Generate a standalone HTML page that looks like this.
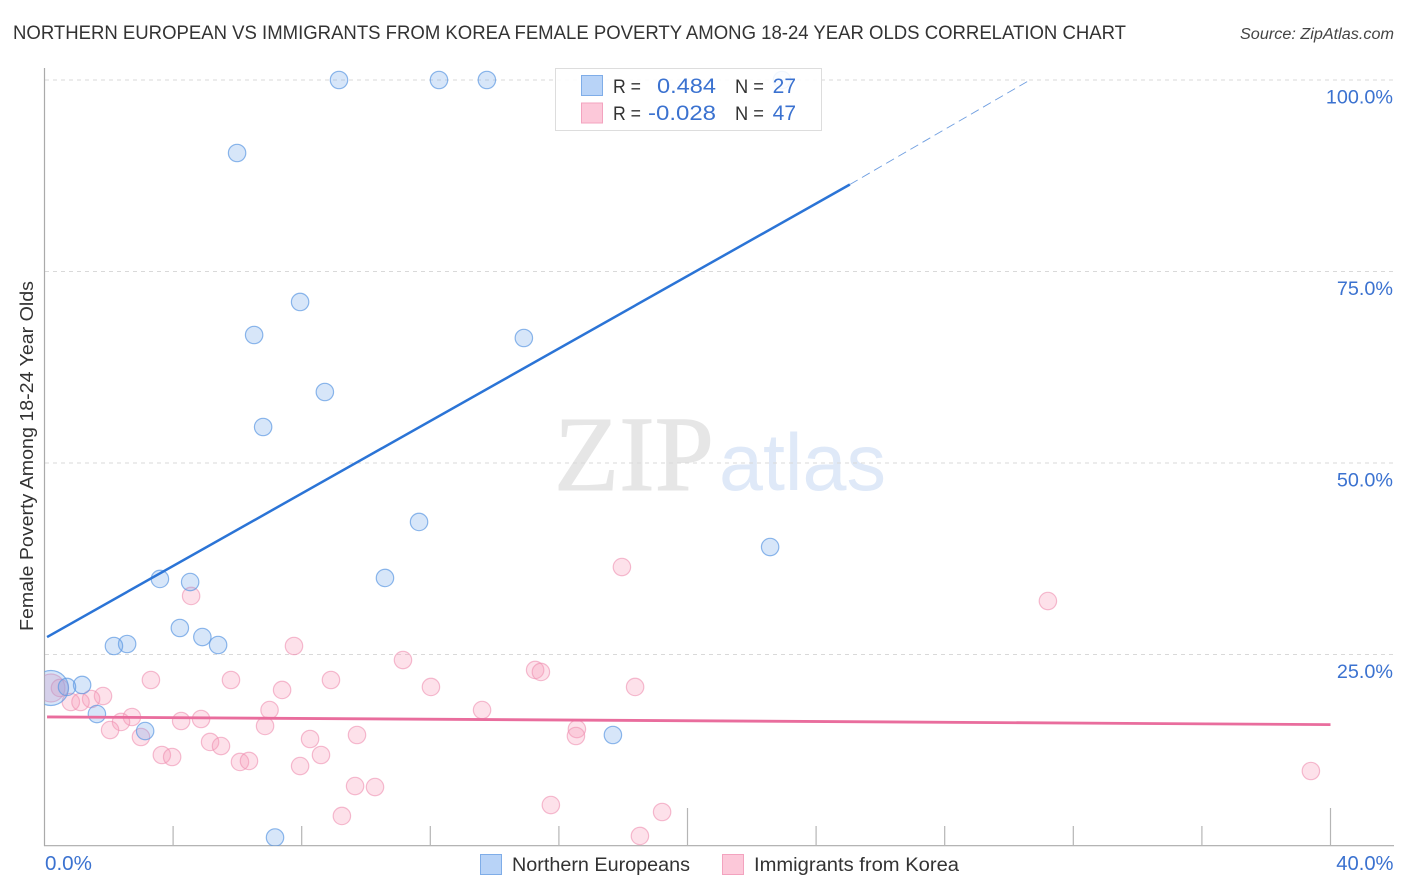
<!DOCTYPE html>
<html lang="en">
<head>
<meta charset="utf-8">
<title>Northern European vs Immigrants from Korea Female Poverty Correlation Chart</title>
<style>
html,body{margin:0;padding:0;background:#fff;width:1406px;height:892px;overflow:hidden}
svg{display:block;font-family:"Liberation Sans",sans-serif}
</style>
</head>
<body>
<svg id="chart" width="1406" height="892" viewBox="0 0 1406 892" xmlns="http://www.w3.org/2000/svg">
  <defs>
    <clipPath id="plot-clip"><rect x="44.5" y="60" width="1350" height="786"/></clipPath>
  </defs>
  <rect width="1406" height="892" fill="#ffffff"/>
  <text x="13" y="39" font-size="19.5" fill="#333333" textLength="1113" lengthAdjust="spacingAndGlyphs">NORTHERN EUROPEAN VS IMMIGRANTS FROM KOREA FEMALE POVERTY AMONG 18-24 YEAR OLDS CORRELATION CHART</text>
  <text x="1394" y="39" font-size="15.5" font-style="italic" fill="#444444" text-anchor="end" textLength="154" lengthAdjust="spacingAndGlyphs">Source: ZipAtlas.com</text>
  <text x="554" y="490" font-family="'Liberation Serif',serif" font-size="107" fill="#e6e6e6" stroke="#e6e6e6" stroke-width="1" textLength="160" lengthAdjust="spacingAndGlyphs">ZIP</text>
  <text x="719" y="490" font-size="81" fill="#dfe9f8" textLength="167" lengthAdjust="spacingAndGlyphs">atlas</text>
  <g id="grid"></g>
  <g id="axes"></g>
  <g id="pink-points" clip-path="url(#plot-clip)"></g>
  <g id="blue-points" clip-path="url(#plot-clip)"></g>
  <g id="trends"></g>
  <g id="labels"></g>
  <text transform="translate(33,456) rotate(-90)" font-size="18" fill="#333333" text-anchor="middle" textLength="350" lengthAdjust="spacingAndGlyphs">Female Poverty Among 18-24 Year Olds</text>

  <g>
    <rect x="555.5" y="68.5" width="266" height="62" fill="#ffffff" fill-opacity="0.88" stroke="#dddddd" stroke-width="1"/>
    <rect x="581.5" y="75.5" width="21" height="20" fill="#b8d3f7" stroke="#7fade8" stroke-width="1"/>
    <rect x="581.5" y="103" width="21" height="20" fill="#fcc8d9" stroke="#f3a3bf" stroke-width="1"/>
    <text x="613" y="93" font-size="19" fill="#333333" textLength="28" lengthAdjust="spacingAndGlyphs">R =</text>
    <text x="657" y="93" font-size="21" fill="#3b72d0" textLength="59" lengthAdjust="spacingAndGlyphs">0.484</text>
    <text x="735" y="93" font-size="19" fill="#333333" textLength="29" lengthAdjust="spacingAndGlyphs">N =</text>
    <text x="796" y="93" font-size="21" fill="#3b72d0" text-anchor="end">27</text>
    <text x="613" y="120" font-size="19" fill="#333333" textLength="28" lengthAdjust="spacingAndGlyphs">R =</text>
    <text x="648" y="120" font-size="21" fill="#3b72d0" textLength="68" lengthAdjust="spacingAndGlyphs">-0.028</text>
    <text x="735" y="120" font-size="19" fill="#333333" textLength="29" lengthAdjust="spacingAndGlyphs">N =</text>
    <text x="796" y="120" font-size="21" fill="#3b72d0" text-anchor="end">47</text>
  </g>

  <g>
    <rect x="480.5" y="854.5" width="21" height="20" fill="#b8d3f7" stroke="#7fade8" stroke-width="1"/>
    <text x="512" y="871" font-size="19" fill="#333333" textLength="178" lengthAdjust="spacingAndGlyphs">Northern Europeans</text>
    <rect x="722.5" y="854.5" width="21" height="20" fill="#fcc8d9" stroke="#f3a3bf" stroke-width="1"/>
    <text x="754" y="871" font-size="19" fill="#333333" textLength="205" lengthAdjust="spacingAndGlyphs">Immigrants from Korea</text>
  </g>
</svg>
<script>
// Northern Europeans
const blueX = [0.20, 9.16, 12.27, 13.76, 22.94, 5.99, 7.95, 6.52, 14.91, 8.72, 6.80, 11.65, 22.57, 10.59, 3.59, 4.53, 4.21, 4.91, 5.40, 2.57, 2.16, 1.17, 0.70, 1.63, 3.13, 17.68, 7.17];
const blueY = [20.63, 100, 100, 100, 100, 90.47, 71.02, 66.71, 66.32, 59.27, 54.70, 42.30, 39.03, 34.99, 34.86, 34.46, 28.46, 27.28, 26.24, 26.37, 26.11, 21.02, 20.76, 17.23, 15.01, 14.49, 1.11];
// Immigrants from Korea
const pinkX = [0.20, 17.96, 31.21, 4.56, 7.76, 11.15, 15.26, 15.44, 3.31, 5.80, 8.91, 12.02, 18.37, 7.39, 1.82, 1.45, 0.48, 0.82, 1.12, 2.72, 2.38, 2.04, 4.25, 4.87, 7.00, 6.86, 13.61, 16.56, 16.53, 3.00, 3.65, 3.97, 5.15, 5.49, 6.08, 6.36, 8.26, 8.60, 9.72, 7.95, 9.66, 10.28, 9.25, 15.75, 19.21, 18.52, 39.39];
const pinkY = [20.63, 36.42, 31.98, 32.64, 26.11, 24.28, 22.98, 22.72, 21.67, 21.67, 21.67, 20.76, 20.76, 20.37, 19.58, 19.19, 20.63, 18.80, 18.80, 16.84, 16.19, 15.14, 16.32, 16.58, 17.75, 15.67, 17.75, 15.27, 14.36, 14.23, 11.88, 11.62, 13.58, 13.05, 10.97, 11.10, 13.97, 11.88, 14.49, 10.44, 7.83, 7.70, 3.92, 5.35, 4.44, 1.31, 9.79];
// Trend lines: start, end of solid part, end of dashed extension
const blueTrendX = [0.08, 25.05, 30.65];
const blueTrendY = [27.28, 86.36, 100];
const pinkTrendX = [0.08, 40];
const pinkTrendY = [16.85, 15.85];
// Ticks
const xTickValues = [4, 8, 12, 16, 20, 24, 28, 32, 36, 40];
const xMajorTicks = [20, 40];
const yTickValues = [25, 50, 75, 100];
const yTickLabels = ['25.0%', '50.0%', '75.0%', '100.0%'];
const xEndValues = [0, 40];
const xEndLabels = ['0.0%', '40.0%'];

const NS = 'http://www.w3.org/2000/svg';
function xScale(v) { return 44.5 + v * (1330.5 - 44.5) / 40; }
function yScale(v) { return 846 - v * (846 - 80) / 100; }
function make(tag, attrs, parent) {
  const el = document.createElementNS(NS, tag);
  for (const k in attrs) el.setAttribute(k, attrs[k]);
  document.getElementById(parent).appendChild(el);
  return el;
}

yTickValues.forEach(function (v) {
  const el = make('line', { x1: 45, x2: 1393, y1: yScale(v), y2: yScale(v), stroke: '#d9d9d9', 'stroke-width': 1, 'stroke-dasharray': '4 4' }, 'grid');
  
  
});

const yAxis = make('line', { x1: 44.5, x2: 44.5, y1: 68, y2: 846, stroke: '#aaaaaa', 'stroke-width': 1.2 }, 'axes');


const xAxis = make('line', { x1: 44, x2: 1394, y1: 845.7, y2: 845.7, stroke: '#aaaaaa', 'stroke-width': 1.2 }, 'axes');



xTickValues.forEach(function (v) {
  const top = xMajorTicks.indexOf(v) >= 0 ? 808 : 826;
  const el = make('line', { x1: xScale(v), x2: xScale(v), y1: top, y2: 846, stroke: '#b5b5b5', 'stroke-width': 1.2 }, 'axes');
  
  
});

pinkX.forEach(function (v, i) {
  const el = make('circle', { cx: xScale(v), cy: yScale(pinkY[i]), r: i === 0 ? 14 : 8.7, fill: '#f79dbb', 'fill-opacity': 0.3, stroke: '#ee8fb0', 'stroke-opacity': 0.6, 'stroke-width': 1.2 }, 'pink-points');
  
  
});

blueX.forEach(function (v, i) {
  const el = make('circle', { cx: xScale(v), cy: yScale(blueY[i]), r: i === 0 ? 17.5 : 8.7, fill: '#6ea6ea', 'fill-opacity': 0.28, stroke: '#5c98e2', 'stroke-opacity': 0.7, 'stroke-width': 1.2 }, 'blue-points');
  
  
});

const blueSolid = make('line', { x1: xScale(blueTrendX[0]), y1: yScale(blueTrendY[0]), x2: xScale(blueTrendX[1]), y2: yScale(blueTrendY[1]), stroke: '#2b74d6', 'stroke-width': 2.5 }, 'trends');


const blueDash = make('line', { x1: xScale(blueTrendX[1]), y1: yScale(blueTrendY[1]), x2: xScale(blueTrendX[2]), y2: yScale(blueTrendY[2]), stroke: '#6f9ee0', 'stroke-width': 0.9, 'stroke-dasharray': '9 5' }, 'trends');


const pinkLine = make('line', { x1: xScale(pinkTrendX[0]), y1: yScale(pinkTrendY[0]), x2: xScale(pinkTrendX[1]), y2: yScale(pinkTrendY[1]), stroke: '#e96d9d', 'stroke-width': 2.8 }, 'trends');



yTickValues.forEach(function (v, i) {
  const el = make('text', { x: 1393, y: yScale(v) + 23.5, 'font-size': 19.8, fill: '#3b72d0', 'text-anchor': 'end' }, 'labels');
  
  
  el.textContent = yTickLabels[i];
});

const xStartLabel = make('text', { x: xScale(xEndValues[0]) + 0.5, y: 870, 'font-size': 20.6, fill: '#3b72d0' }, 'labels');


xStartLabel.textContent = xEndLabels[0];
const xEndLabel = make('text', { x: xScale(xEndValues[1]) + 63, y: 870, 'font-size': 20.2, fill: '#3b72d0', 'text-anchor': 'end' }, 'labels');


xEndLabel.textContent = xEndLabels[1];
</script>
</body>
</html>
